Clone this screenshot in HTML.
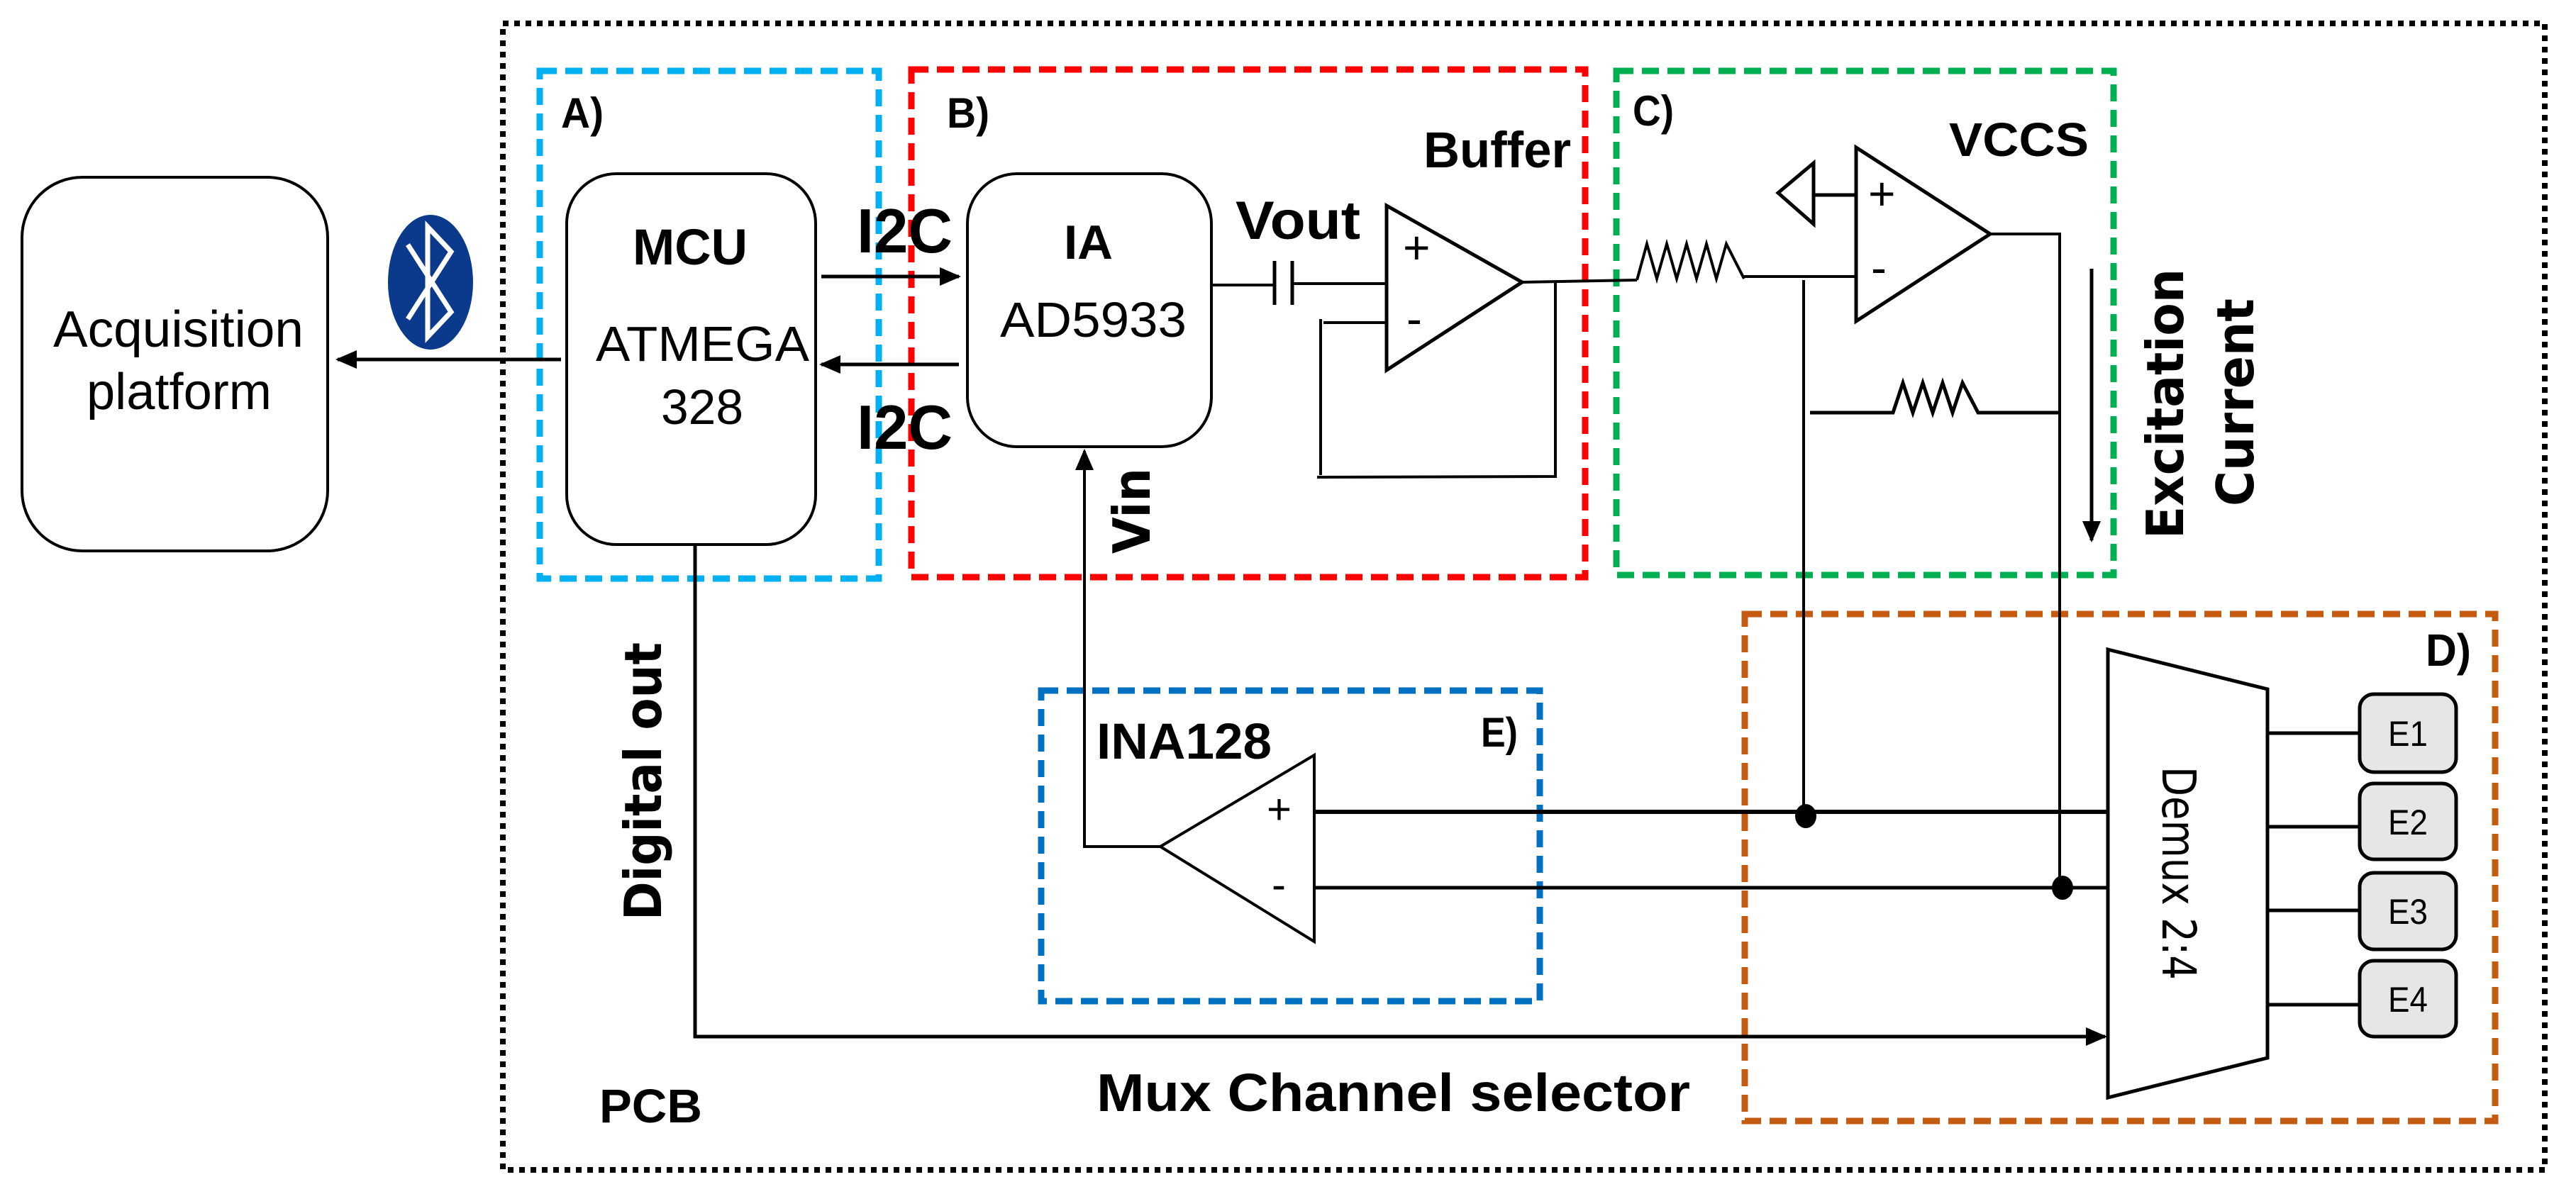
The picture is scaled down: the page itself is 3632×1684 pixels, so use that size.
<!DOCTYPE html>
<html><head><meta charset="utf-8"><style>
html,body{margin:0;padding:0;background:#fff;}
svg{display:block;}
text{font-family:"Liberation Sans",sans-serif;fill:#000;}
.b{font-weight:bold;}
.w{font-family:"DejaVu Sans","Liberation Sans",sans-serif;font-weight:bold;}
</style></head><body>
<svg width="3632" height="1684" viewBox="0 0 3632 1684" xmlns="http://www.w3.org/2000/svg">
<defs>
<marker id="ah" markerWidth="30" markerHeight="26" refX="9" refY="5" orient="auto" markerUnits="userSpaceOnUse" viewBox="0 0 10 10" preserveAspectRatio="none">
<path d="M0,0 L10,5 L0,10 z" fill="#000"/></marker>
</defs>
<g fill="none" stroke-linejoin="miter">
<rect x="709" y="33" width="2879" height="1617" stroke="#000" stroke-width="8" stroke-dasharray="8,8"/>
<rect x="761" y="100" width="478" height="716" stroke="#00b0f0" stroke-width="9" stroke-dasharray="24,12"/>
<rect x="1285" y="98" width="950" height="716" stroke="#ff0000" stroke-width="9" stroke-dasharray="24,12"/>
<rect x="2279" y="100" width="701" height="711" stroke="#00b050" stroke-width="9" stroke-dasharray="24,12"/>
<rect x="2460" y="866" width="1058" height="715" stroke="#c55a11" stroke-width="9" stroke-dasharray="24,12"/>
<rect x="1468" y="974" width="703" height="438" stroke="#0070c0" stroke-width="9" stroke-dasharray="24,12"/>

<g stroke="#000" stroke-width="4">
<rect x="31" y="250" width="431" height="527" rx="85" ry="85"/>
<rect x="799" y="245" width="351" height="523" rx="70" ry="70"/>
<rect x="1364" y="245" width="344" height="385" rx="70" ry="70"/>
</g>
<g stroke="#000" stroke-width="5">
<line x1="791" y1="507" x2="476" y2="507" marker-end="url(#ah)"/>
<line x1="1158" y1="390" x2="1352" y2="390" marker-end="url(#ah)"/>
<line x1="1352" y1="514" x2="1158" y2="514" marker-end="url(#ah)"/>
</g>
<g stroke="#000" stroke-width="4">
<polyline points="1636,1194 1529,1194 1529,636" marker-end="url(#ah)"/>
<line x1="1708" y1="402" x2="1797" y2="402"/>
<line x1="1797" y1="368" x2="1797" y2="430" stroke-width="5"/>
<line x1="1822" y1="368" x2="1822" y2="430" stroke-width="5"/>
<line x1="1822" y1="400" x2="1955" y2="400"/>
<polygon points="1955,290 2146,398 1955,522" stroke-width="5"/>
<polyline points="1955,455 1866,455"/>
<line x1="1862" y1="450" x2="1862" y2="670"/>
<polyline points="1857,673 2193,672 2193,398"/>
<line x1="2146" y1="398" x2="2308" y2="395"/>
<polyline points="2308,395 2322,344 2336,393 2350,344 2364,393 2378,344 2392,393 2406,344 2420,393 2434,344 2459,393"/>
<polyline points="2459,390 2617,390"/>
<polygon points="2617,208 2806,330 2617,453" stroke-width="5"/>
<polygon points="2557,230 2507,272 2557,316" stroke-width="5"/>
<line x1="2557" y1="275" x2="2617" y2="275" stroke-width="5"/>
<polyline points="2806,330 2904,330 2904,1252"/>
<line x1="2543" y1="395" x2="2543" y2="1151"/>
<polyline points="2552,582 2669,582 2683,540 2697,582 2711,540 2725,582 2739,540 2753,582 2767,540 2789,582 2904,582" stroke-width="5"/>
<line x1="2949" y1="379" x2="2949" y2="762" stroke-width="5" marker-end="url(#ah)"/>
<polyline points="980,768 980,1462 2968,1462" stroke-width="5" marker-end="url(#ah)"/>
<polygon points="1636,1194 1853,1065 1853,1328" stroke-width="4"/>
<line x1="1851" y1="1145" x2="2972" y2="1145" stroke-width="6"/>
<line x1="1851" y1="1252" x2="2972" y2="1252" stroke-width="5"/>
<polygon points="2972,916 3197,972 3197,1492 2972,1548" stroke-width="5"/>
<line x1="3197" y1="1034" x2="3327" y2="1034" stroke-width="5"/>
<line x1="3197" y1="1166" x2="3327" y2="1166" stroke-width="5"/>
<line x1="3197" y1="1284" x2="3327" y2="1284" stroke-width="5"/>
<line x1="3197" y1="1417" x2="3327" y2="1417" stroke-width="5"/>
</g>
<ellipse cx="2546" cy="1151" rx="15" ry="17" fill="#000"/>
<ellipse cx="2908" cy="1252" rx="15" ry="17" fill="#000"/>
<g fill="#e6e6e6" stroke="#000" stroke-width="5">
<rect x="3327" y="979" width="136" height="110" rx="20"/>
<rect x="3327" y="1105" width="136" height="107" rx="20"/>
<rect x="3327" y="1231" width="136" height="108" rx="20"/>
<rect x="3327" y="1355" width="136" height="107" rx="20"/>
</g>
<ellipse cx="607" cy="398" rx="60" ry="95" fill="#0b3a8c"/>
<polyline points="575,345 636,440 603,475 603,320 636,355 575,450" stroke="#fff" stroke-width="7" fill="none"/>
</g>

<text x="75" y="489" font-size="72" textLength="353" lengthAdjust="spacingAndGlyphs">Acquisition</text>
<text x="122" y="577" font-size="72" textLength="261" lengthAdjust="spacingAndGlyphs">platform</text>
<text class="b" x="892" y="373" font-size="71" textLength="162" lengthAdjust="spacingAndGlyphs">MCU</text>
<text x="840" y="509" font-size="70" textLength="301" lengthAdjust="spacingAndGlyphs">ATMEGA</text>
<text x="932" y="598" font-size="70" textLength="116" lengthAdjust="spacingAndGlyphs">328</text>
<text class="b" x="1208" y="356" font-size="88" textLength="135" lengthAdjust="spacingAndGlyphs">I2C</text>
<text class="b" x="1208" y="633" font-size="88" textLength="135" lengthAdjust="spacingAndGlyphs">I2C</text>
<text class="b" x="1500" y="365" font-size="68" textLength="69" lengthAdjust="spacingAndGlyphs">IA</text>
<text x="1410" y="475" font-size="70" textLength="263" lengthAdjust="spacingAndGlyphs">AD5933</text>
<text class="b" x="1742" y="337" font-size="76" textLength="176" lengthAdjust="spacingAndGlyphs">Vout</text>
<text class="b" x="2007" y="236" font-size="71" textLength="208" lengthAdjust="spacingAndGlyphs">Buffer</text>
<text class="b" x="2748" y="220" font-size="67" textLength="197" lengthAdjust="spacingAndGlyphs">VCCS</text>
<text x="1978" y="372" font-size="66">+</text>
<text x="1983" y="472" font-size="66">-</text>
<text x="2634" y="296" font-size="66">+</text>
<text x="2638" y="400" font-size="66">-</text>
<text x="1786" y="1162" font-size="60">+</text>
<text x="1793" y="1268" font-size="60">-</text>
<text class="b" x="791" y="180" font-size="60" textLength="60" lengthAdjust="spacingAndGlyphs">A)</text>
<text class="b" x="1335" y="180" font-size="60" textLength="60" lengthAdjust="spacingAndGlyphs">B)</text>
<text class="b" x="2302" y="177" font-size="60" textLength="58" lengthAdjust="spacingAndGlyphs">C)</text>
<text class="b" x="3420" y="939" font-size="64" textLength="64" lengthAdjust="spacingAndGlyphs">D)</text>
<text class="b" x="2088" y="1053" font-size="58" textLength="52" lengthAdjust="spacingAndGlyphs">E)</text>
<text class="b" x="1546" y="1070" font-size="71" textLength="247" lengthAdjust="spacingAndGlyphs">INA128</text>
<text class="b" x="845" y="1583" font-size="67" textLength="145" lengthAdjust="spacingAndGlyphs">PCB</text>
<text class="b" x="1546" y="1567" font-size="75" textLength="837" lengthAdjust="spacingAndGlyphs">Mux Channel selector</text>
<text x="3395" y="1052" font-size="50" text-anchor="middle" textLength="56" lengthAdjust="spacingAndGlyphs">E1</text>
<text x="3395" y="1177" font-size="50" text-anchor="middle" textLength="56" lengthAdjust="spacingAndGlyphs">E2</text>
<text x="3395" y="1303" font-size="50" text-anchor="middle" textLength="56" lengthAdjust="spacingAndGlyphs">E3</text>
<text x="3395" y="1427" font-size="50" text-anchor="middle" textLength="56" lengthAdjust="spacingAndGlyphs">E4</text>
<text class="w" transform="translate(1621,781) rotate(-90)" font-size="72" textLength="121" lengthAdjust="spacingAndGlyphs">Vin</text>
<text class="w" transform="translate(932,1298) rotate(-90)" font-size="72" textLength="392" lengthAdjust="spacingAndGlyphs">Digital out</text>
<text class="w" transform="translate(3078,760) rotate(-90)" font-size="72" textLength="381" lengthAdjust="spacingAndGlyphs">Excitation</text>
<text class="w" transform="translate(3177,714) rotate(-90)" font-size="72" textLength="293" lengthAdjust="spacingAndGlyphs">Current</text>
<text transform="translate(3049,1081) rotate(90)" font-size="66" style="font-family:'DejaVu Sans',sans-serif" textLength="301" lengthAdjust="spacingAndGlyphs">Demux 2:4</text>
</svg>
</body></html>
